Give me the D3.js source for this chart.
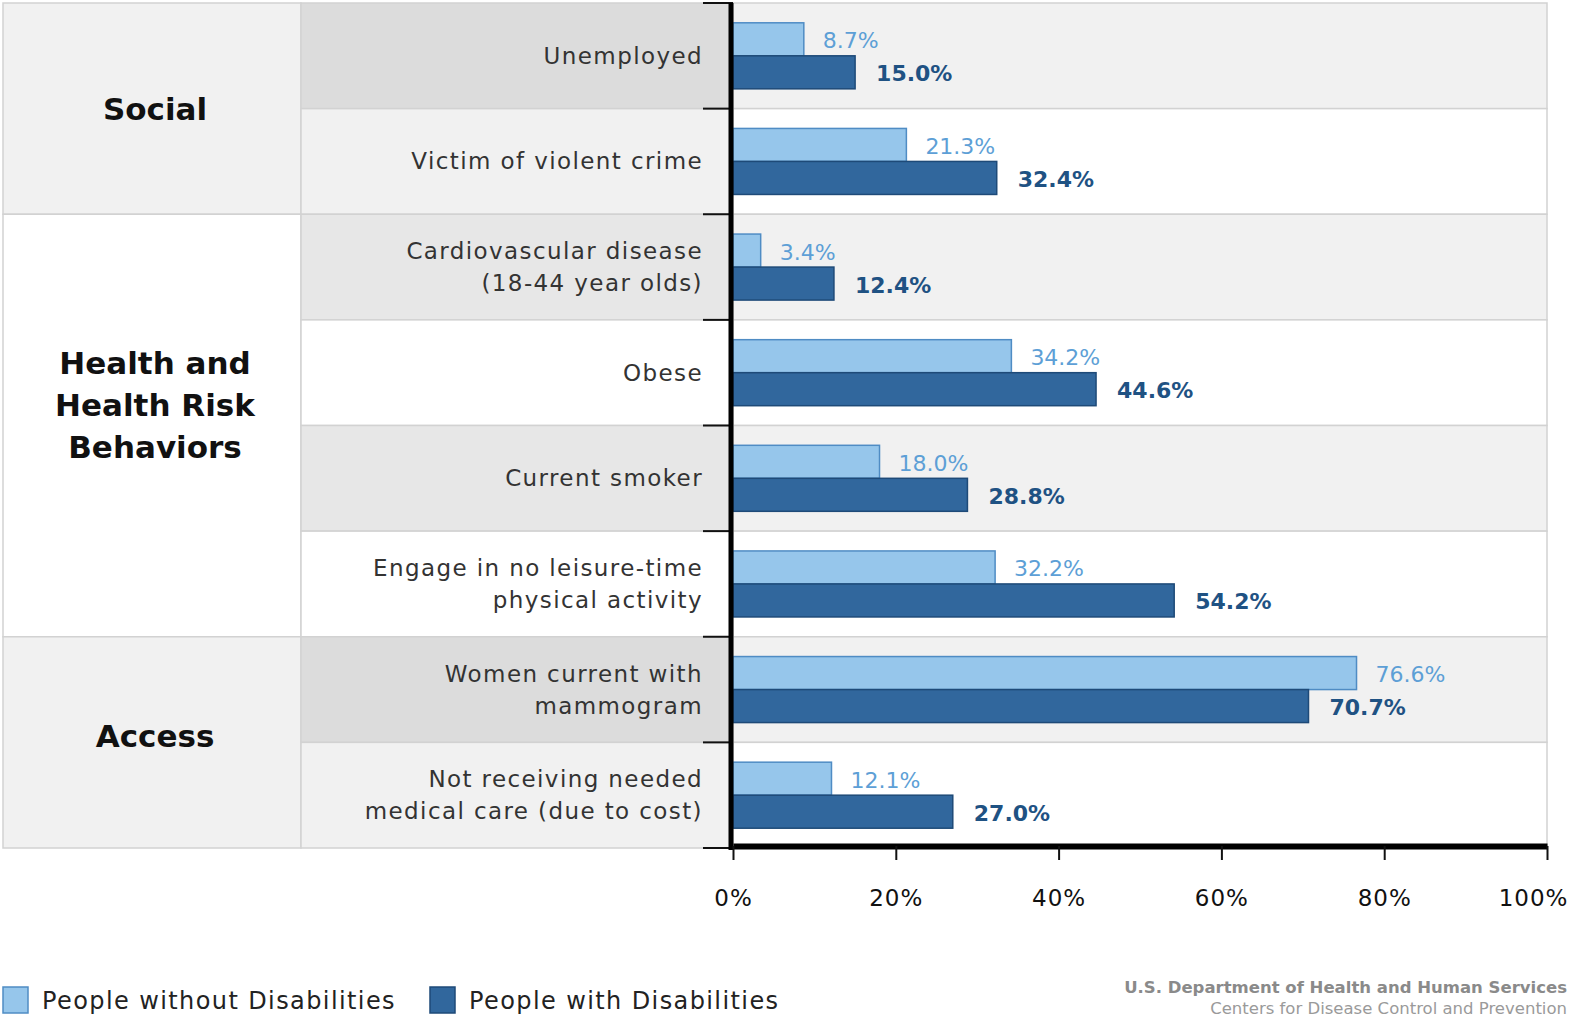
<!DOCTYPE html>
<html>
<head>
<meta charset="utf-8">
<script src="https://cdn.jsdelivr.net/npm/d3@7"></script>
<style>
  body { margin: 0; background: #fff; }
  svg { display: block; font-family: "DejaVu Sans", "Noto Sans", sans-serif; }
</style>
</head>
<body>
<svg id="chart" width="1570" height="1017"></svg>
<script>
'use strict';

// Data
var categories = [
  'Unemployed',
  'Victim of violent crime',
  'Cardiovascular disease|(18-44 year olds)',
  'Obese',
  'Current smoker',
  'Engage in no leisure-time|physical activity',
  'Women current with|mammogram',
  'Not receiving needed|medical care (due to cost)'
]
var withoutDisabilities = [8.7, 21.3, 3.4, 34.2, 18.0, 32.2, 76.6, 12.1]
var withDisabilities = [15.0, 32.4, 12.4, 44.6, 28.8, 54.2, 70.7, 27.0]
var groups = [
  {name: 'Social', lines: ['Social'], first: 0, last: 1},
  {name: 'Health', lines: ['Health and', 'Health Risk', 'Behaviors'], first: 2, last: 5},
  {name: 'Access', lines: ['Access'], first: 6, last: 7}
]
var seriesNames = ['People without Disabilities', 'People with Disabilities']
var xTicks = [0, 20, 40, 60, 80, 100]

;(function(){
  var svg = d3.select('#chart')
  var font = '"DejaVu Sans", "Noto Sans", sans-serif'

  // Setup: layout
  var chartTop = 3, chartBottom = 848
  var groupX = 3, labelX = 301, axisX = 733, rightX = 1547

  var y = d3.scaleBand()
    .domain(d3.range(categories.length))
    .range([chartTop, chartBottom])

  var ySeries = d3.scaleBand()
    .domain([0, 1])
    .range([0, y.bandwidth()])
    .paddingOuter(0.6)

  var x = d3.scaleLinear()
    .domain([0, 100])
    .range([axisX, rightX])

  var colors = {
    light: '#96c6eb', lightStroke: '#4f8cc4', lightText: '#5d9fd6',
    dark: '#31679d', darkStroke: '#1e4a78', darkText: '#1f5283'
  }

  function groupOf(i) {
    return groups.filter(function(g){ return i >= g.first && i <= g.last })[0]
  }
  function isGrayGroup(i) {
    return groupOf(i).name !== 'Health'
  }

  // Backgrounds: group column
  svg.append('g').selectAll('rect')
    .data(groups)
    .enter().append('rect')
      .attr('x', groupX)
      .attr('y', function(g){ return y(g.first) })
      .attr('width', labelX - groupX)
      .attr('height', function(g){ return y(g.last) + y.bandwidth() - y(g.first) })
      .attr('fill', function(g){ return g.name === 'Health' ? '#ffffff' : '#f1f1f1' })
      .attr('stroke', '#d2d2d2')
      .attr('stroke-width', 1.5)

  // Backgrounds: label column
  svg.append('g').selectAll('rect')
    .data(categories)
    .enter().append('rect')
      .attr('x', labelX)
      .attr('y', function(d, i){ return y(i) })
      .attr('width', axisX - labelX)
      .attr('height', y.bandwidth())
      .attr('fill', function(d, i){
        var odd = i % 2 === 0
        if (isGrayGroup(i)) return odd ? '#dcdcdc' : '#f1f1f1'
        return odd ? '#e7e7e7' : '#ffffff'
      })
      .attr('stroke', '#d2d2d2')
      .attr('stroke-width', 1.5)

  // Backgrounds: chart area
  svg.append('g').selectAll('rect')
    .data(categories)
    .enter().append('rect')
      .attr('x', axisX)
      .attr('y', function(d, i){ return y(i) })
      .attr('width', rightX - axisX)
      .attr('height', y.bandwidth())
      .attr('fill', function(d, i){ return i % 2 === 0 ? '#f1f1f1' : '#ffffff' })
      .attr('stroke', '#d2d2d2')
      .attr('stroke-width', 1.5)

  // Group labels (the multi-line one sits a bit above its block's middle)
  var groupShift = {Social: 0, Health: -21, Access: -6}
  var gl = svg.append('g')
    .selectAll('text')
    .data(groups)
    .enter().append('text')
      .attr('text-anchor', 'middle')
      .attr('font-size', 31)
      .attr('font-weight', 'bold')
      .attr('fill', '#111')
      .attr('y', function(g){
        var mid = (y(g.first) + y(g.last) + y.bandwidth()) / 2
        return mid - (g.lines.length - 1) * 21 + 11 + groupShift[g.name]
      })
  gl.selectAll('tspan')
    .data(function(g){ return g.lines })
    .enter().append('tspan')
      .attr('x', (groupX + labelX) / 2 + 3)
      .attr('dy', function(d, i){ return i === 0 ? 0 : 42 })
      .text(function(d){ return d })

  // Row labels
  var rl = svg.append('g')
    .selectAll('text')
    .data(categories)
    .enter().append('text')
      .attr('text-anchor', 'end')
      .attr('font-size', 23)
      .attr('letter-spacing', 1.4)
      .attr('fill', '#333')
      .attr('y', function(d, i){
        var n = d.split('|').length
        return y(i) + y.bandwidth() / 2 - (n - 1) * 16 + 8
      })
  rl.selectAll('tspan')
    .data(function(d){ return d.split('|') })
    .enter().append('tspan')
      .attr('x', 703)
      .attr('dy', function(d, i){ return i === 0 ? 0 : 32 })
      .text(function(d){ return d })

  // Bars
  var rows = svg.append('g').selectAll('g')
    .data(categories)
    .enter().append('g')
      .attr('transform', function(d, i){ return 'translate(0,' + y(i) + ')' })

  rows.append('rect')
    .attr('x', x(0))
    .attr('y', ySeries(0))
    .attr('width', function(d, i){ return x(withoutDisabilities[i]) - x(0) })
    .attr('height', ySeries.bandwidth())
    .attr('fill', colors.light)
    .attr('stroke', colors.lightStroke)
    .attr('stroke-width', 1.5)

  rows.append('rect')
    .attr('x', x(0))
    .attr('y', ySeries(1))
    .attr('width', function(d, i){ return x(withDisabilities[i]) - x(0) })
    .attr('height', ySeries.bandwidth())
    .attr('fill', colors.dark)
    .attr('stroke', colors.darkStroke)
    .attr('stroke-width', 1.5)

  rows.append('text')
    .attr('x', function(d, i){ return x(withoutDisabilities[i]) + 19 })
    .attr('y', ySeries(0) + ySeries.bandwidth() / 2 + 9)
    .attr('font-size', 22)
    .attr('fill', colors.lightText)
    .text(function(d, i){ return withoutDisabilities[i].toFixed(1) + '%' })

  rows.append('text')
    .attr('x', function(d, i){ return x(withDisabilities[i]) + 21 })
    .attr('y', ySeries(1) + ySeries.bandwidth() / 2 + 9)
    .attr('font-size', 22)
    .attr('font-weight', 'bold')
    .attr('fill', colors.darkText)
    .text(function(d, i){ return withDisabilities[i].toFixed(1) + '%' })

  // Y axis: boundary ticks + thick line
  svg.append('g').selectAll('line')
    .data(d3.range(categories.length + 1))
    .enter().append('line')
      .attr('x1', 703)
      .attr('x2', axisX)
      .attr('y1', function(i){ return i < categories.length ? y(i) : chartBottom })
      .attr('y2', function(i){ return i < categories.length ? y(i) : chartBottom })
      .attr('stroke', '#111')
      .attr('stroke-width', 2)

  svg.append('line')
    .attr('x1', axisX - 2)
    .attr('x2', axisX - 2)
    .attr('y1', chartTop)
    .attr('y2', chartBottom + 2)
    .attr('stroke', '#000')
    .attr('stroke-width', 5)

  // X axis
  var xAxis = d3.axisBottom(x)
    .tickValues(xTicks)
    .tickFormat(function(d){ return d + '%' })
    .tickSize(14)
    .tickSizeOuter(0)

  var xg = svg.append('g')
    .attr('transform', 'translate(0,' + (chartBottom - 2) + ')')
    .call(xAxis)

  xg.select('.domain')
    .attr('stroke', '#000')
    .attr('stroke-width', 6)
  xg.selectAll('.tick line')
    .attr('stroke', '#111')
    .attr('stroke-width', 2)
  xg.selectAll('.tick text')
    .attr('y', 44)
    .attr('font-size', 23)
    .attr('letter-spacing', 1)
    .attr('font-family', font)
    .attr('fill', '#111')
  xg.selectAll('.tick text')
    .filter(function(d){ return d === 100 })
    .attr('dx', -14)

  // Legend
  var legend = svg.append('g')
    .attr('transform', 'translate(0,' + 987 + ')')
  var legendX = [3, 430]
  seriesNames.forEach(function(name, i){
    legend.append('rect')
      .attr('x', legendX[i])
      .attr('y', 0)
      .attr('width', 25)
      .attr('height', 26)
      .attr('fill', i === 0 ? colors.light : colors.dark)
      .attr('stroke', i === 0 ? colors.lightStroke : colors.darkStroke)
      .attr('stroke-width', 1.5)
    legend.append('text')
      .attr('x', legendX[i] + 39)
      .attr('y', 22)
      .attr('font-size', 24)
      .attr('letter-spacing', 1.4)
      .attr('fill', '#222')
      .text(name)
  })

  // Credits
  svg.append('text')
    .attr('x', 1567)
    .attr('y', 993)
    .attr('text-anchor', 'end')
    .attr('font-size', 16.5)
    .attr('font-weight', 'bold')
    .attr('fill', '#8a8a8a')
    .text('U.S. Department of Health and Human Services')
  svg.append('text')
    .attr('x', 1567)
    .attr('y', 1014)
    .attr('text-anchor', 'end')
    .attr('font-size', 16.5)
    .attr('fill', '#9a9a9a')
    .text('Centers for Disease Control and Prevention')
})()
</script>
</body>
</html>
